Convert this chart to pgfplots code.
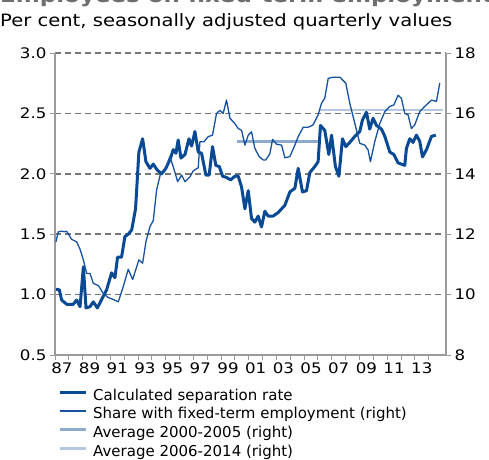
\documentclass[border=0pt]{standalone}
\usepackage{fontspec}
\setmainfont{DejaVu Sans}[FakeStretch=1.15]
\newfontfamily\legfont{DejaVu Sans}
\usepackage{pgfplots}
\pgfplotsset{compat=1.18}
\definecolor{sepc}{HTML}{0A4A94}
\definecolor{fixc}{HTML}{1552A0}
\definecolor{avga}{HTML}{8EAACC}
\definecolor{avgb}{HTML}{B4C8E0}
\definecolor{axc}{HTML}{9A9A9A}
\definecolor{gridc}{HTML}{777777}
\definecolor{titc}{HTML}{6E6E6E}
\begin{document}
\begin{tikzpicture}[x=1pt,y=1pt]
\pgfplotsset{
  common/.style={
    at={(55pt,104pt)}, anchor=south west, scale only axis,
    width=391pt, height=302pt,
    xmin=1987, xmax=2015.25,
    axis line style={axc, line width=1.2pt},
    tick style={axc, line width=1pt},
    tick align=outside,
    major tick length=5pt,
    minor tick length=5pt,
    ticklabel style={font=\fontsize{14.5}{17}\selectfont, text=black},
    /pgf/number format/assume math mode=true,
    clip=false,
  }
}
\begin{axis}[common,
  ymin=0.5, ymax=3.0,
  axis x line*=bottom, axis y line*=left,
  ytick={0.5,1,1.5,2,2.5,3},
  yticklabel style={/pgf/number format/.cd, fixed, fixed zerofill, precision=1},
  ymajorgrids,
  grid style={gridc, line width=1.5pt, dash pattern=on 6pt off 4pt},
  xtick={1987.5,1989.5,1991.5,1993.5,1995.5,1997.5,1999.5,2001.5,2003.5,2005.5,2007.5,2009.5,2011.5,2013.5},
  xticklabels={87,89,91,93,95,97,99,01,03,05,07,09,11,13},
  major x tick style={draw=none},
  minor xtick={1987,1988,...,2014},
  xticklabel style={yshift=1pt},
]
\addplot[sepc, line width=3pt, line join=round] coordinates {
(1987.07,1.044) (1987.31,1.04) (1987.48,0.955) (1987.84,0.92) (1988.32,0.92)
(1988.56,0.955) (1988.81,0.90) (1989.05,1.23) (1989.24,0.89) (1989.53,0.90)
(1989.77,0.94) (1990.06,0.89) (1990.37,0.96) (1990.73,1.04) (1991.09,1.18)
(1991.33,1.14) (1991.52,1.31) (1991.81,1.31) (1992.05,1.48) (1992.29,1.50)
(1992.54,1.535) (1992.82,1.71) (1993.06,2.18) (1993.33,2.29) (1993.57,2.10)
(1993.86,2.045) (1994.10,2.08) (1994.39,2.03) (1994.70,2.00) (1995.01,2.045)
(1995.35,2.13) (1995.54,2.20) (1995.74,2.17) (1995.90,2.28) (1996.10,2.13)
(1996.39,2.16) (1996.68,2.29) (1996.87,2.23) (1997.11,2.35) (1997.35,2.18)
(1997.59,2.17) (1997.90,1.99) (1998.14,1.99) (1998.38,2.225) (1998.62,2.07)
(1998.87,2.06) (1999.11,1.98) (1999.39,1.97) (1999.68,1.95) (2000.00,1.98)
(2000.24,1.98) (2000.48,1.89) (2000.72,1.71) (2000.96,1.86) (2001.20,1.63)
(2001.44,1.60) (2001.68,1.65) (2001.92,1.56) (2002.16,1.69) (2002.40,1.65)
(2002.76,1.65) (2003.13,1.68) (2003.61,1.74) (2003.97,1.85) (2004.33,1.88)
(2004.57,2.045) (2004.88,1.85) (2005.17,1.86) (2005.41,2.01) (2005.77,2.06)
(2006.01,2.10) (2006.18,2.40) (2006.49,2.36) (2006.78,2.16) (2006.98,2.32)
(2007.26,2.06) (2007.51,1.98) (2007.77,2.29) (2008.01,2.225) (2008.30,2.26)
(2008.66,2.31) (2009.02,2.35) (2009.21,2.445) (2009.50,2.51) (2009.74,2.37)
(2009.98,2.46) (2010.23,2.40) (2010.59,2.37) (2010.83,2.31) (2011.19,2.18)
(2011.48,2.16) (2011.79,2.09) (2012.27,2.07) (2012.39,2.21) (2012.63,2.29)
(2012.87,2.26) (2013.11,2.32) (2013.35,2.27) (2013.55,2.14) (2013.84,2.20)
(2014.20,2.31) (2014.51,2.32)
};
\end{axis}
\begin{axis}[common,
  ymin=8, ymax=18,
  axis x line=none, axis y line*=right,
  ytick={8,10,12,14,16,18},
  legend style={at={(0.0077,-0.111)}, anchor=north west, draw=none, fill=none,
    inner sep=0pt, row sep=3.7pt,
    font=\legfont\fontsize{15}{17}\selectfont,
    nodes={inner sep=0pt, text height=11.5pt, text depth=3.5pt},
    /tikz/every odd column/.append style={column sep=6pt}},
  legend cell align=left,
  legend image code/.code={\draw[#1] (0pt,4pt) -- (26pt,4pt);},
]
\addlegendimage{sepc, line width=3pt}
\addlegendentry{Calculated separation rate}
\addplot[avga, line width=2.8pt, forget plot] coordinates {(2000.16,15.08) (2006.0,15.08)};
\addplot[avgb, line width=2.4pt, forget plot] coordinates {(2006.13,16.11) (2015.04,16.11)};
\addplot[fixc, line width=1.3pt, line join=round] coordinates {
(1987.07,11.75) (1987.24,12.08) (1987.48,12.10) (1987.72,12.08) (1987.84,12.10)
(1988.20,11.83) (1988.56,11.75) (1988.81,11.50) (1989.05,11.15) (1989.29,10.70)
(1989.53,10.70) (1989.77,10.37) (1990.13,10.30) (1990.49,10.04) (1990.85,9.90)
(1991.21,9.84) (1991.57,9.76) (1991.93,10.26) (1992.29,10.84) (1992.61,10.50)
(1993.06,11.15) (1993.33,11.04) (1993.57,11.75) (1993.86,12.25) (1994.10,12.45)
(1994.34,13.46) (1994.63,14.02) (1994.94,14.13) (1995.30,14.57) (1995.54,14.24)
(1995.86,13.74) (1996.15,13.96) (1996.39,13.74) (1996.75,13.90) (1996.99,14.10)
(1997.35,14.20) (1997.47,15.06) (1997.76,15.06) (1998.07,15.23) (1998.38,15.28)
(1998.67,16.00) (1998.91,16.10) (1999.15,16.00) (1999.39,16.44) (1999.64,15.84)
(2000.00,15.66) (2000.24,15.50) (2000.48,15.44) (2000.72,14.95) (2000.96,15.28)
(2001.20,15.39) (2001.44,14.84) (2001.75,14.57) (2002.04,14.46) (2002.23,14.46)
(2002.52,14.66) (2002.72,15.14) (2003.00,14.98) (2003.37,14.95) (2003.61,14.53)
(2003.97,14.57) (2004.33,14.95) (2004.57,15.23) (2004.93,15.54) (2005.29,15.54)
(2005.65,15.62) (2006.01,15.95) (2006.25,16.33) (2006.49,16.50) (2006.74,17.16)
(2007.10,17.20) (2007.58,17.20) (2008.01,17.00) (2008.30,16.33) (2008.66,15.67)
(2009.02,15.01) (2009.38,14.95) (2009.62,14.79) (2009.79,14.40) (2010.10,15.06)
(2010.47,15.67) (2010.83,16.06) (2011.19,16.23) (2011.48,16.28) (2011.79,16.60)
(2012.03,16.50) (2012.27,16.00) (2012.51,15.95) (2012.75,15.50) (2012.99,15.62)
(2013.35,16.06) (2013.71,16.23) (2014.20,16.44) (2014.56,16.40) (2014.80,17.00)
};
\addlegendentry{Share with fixed-term employment (right)}
\addlegendimage{avga, line width=2.8pt}
\addlegendentry{Average 2000-2005 (right)}
\addlegendimage{avgb, line width=2.4pt}
\addlegendentry{Average 2006-2014 (right)}
\end{axis}
\node[anchor=base west, inner sep=0pt, text=titc, font=\fontsize{20}{24}\selectfont\bfseries] at (0,456) {Employees on fixed-term employment};
\node[anchor=base west, inner sep=0pt, font=\fontsize{17}{20}\selectfont] at (0,432) {Per cent, seasonally adjusted quarterly values};
\pgfresetboundingbox
\path[use as bounding box] (0,0) rectangle (489,459);
\end{tikzpicture}
\end{document}
